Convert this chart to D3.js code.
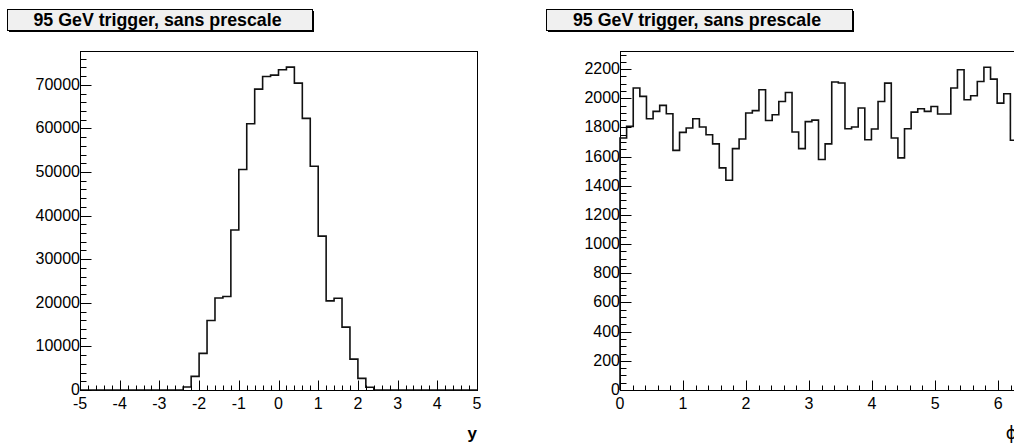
<!DOCTYPE html>
<html>
<head>
<meta charset="utf-8">
<script src="https://cdn.jsdelivr.net/npm/d3@7"></script>
<style>
  html, body { margin: 0; padding: 0; background: #fff; }
  svg { display: block; font-family: "Liberation Sans", Arial, Helvetica, sans-serif; }
</style>
</head>
<body>
<svg id="chart" width="1014" height="443"></svg>
<script>
// ---------- DATA ----------
const titleText = "95 GeV trigger, sans prescale";

// Left histogram: rapidity y, 50 bins from -5 to 5
const yBinLow = -5, yBinWidth = 0.2;
const yCounts = [
  0, 0, 0, 0, 0, 0, 0, 0, 0, 0, 0, 0, 0,
  700, 3130, 8400, 15950, 21100, 21430, 36680, 50560, 61080, 69010, 71910, 72220,
  73440, 74050, 70390, 62300, 51320, 35300, 20430, 21050, 14410, 7090, 2670, 620,
  0, 0, 0, 0, 0, 0, 0, 0, 0, 0, 0, 0, 0
];
const yXTicks = [-5, -4, -3, -2, -1, 0, 1, 2, 3, 4, 5];
const yYTicks = [0, 10000, 20000, 30000, 40000, 50000, 60000, 70000];
const yAxisLabel = "y";

// Right histogram: azimuth phi, 60 bins from 0 to 6.3
const phiBinLow = 0, phiBinWidth = 0.105;
const phiCounts = [
  1728, 1807, 2070, 2013, 1860, 1910, 1951, 1894, 1643, 1766,
  1796, 1860, 1803, 1750, 1687, 1523, 1438, 1655, 1721, 1899,
  1915, 2058, 1848, 1887, 1978, 2040, 1769, 1655, 1840, 1850,
  1580, 1687, 2111, 2105, 1791, 1803, 1933, 1716, 1789, 1978,
  2104, 1728, 1591, 1791, 1905, 1928, 1910, 1944, 1892, 1892,
  2070, 2195, 1990, 2017, 2115, 2213, 2131, 1967, 2031, 1712
];
const phiXTicks = [0, 1, 2, 3, 4, 5, 6];
const phiYTicks = [0, 200, 400, 600, 800, 1000, 1200, 1400, 1600, 1800, 2000, 2200];
const phiAxisLabel = "\u03D5";

// ---------- DRAW ----------
const svg = d3.select("#chart");

function titleBox(x, y, w, h) {
  const g = svg.append("g");
  g.append("rect").attr("x", x + 2).attr("y", y + 2).attr("width", w).attr("height", h).attr("fill", "#000");
  g.append("rect").attr("x", x + 0.5).attr("y", y + 0.5).attr("width", w).attr("height", h)
    .attr("fill", "#f0f0f0").attr("stroke", "#000").attr("stroke-width", 1);
  g.append("text").attr("x", x + w / 2 - 2).attr("y", y + h / 2 + 6.2)
    .attr("text-anchor", "middle").attr("font-weight", "bold").attr("font-size", 17.8)
    .text(titleText);
}

function histPanel(opt) {
  const { left, right, top, bottom, xDomain, yMax, counts, binLow, binWidth,
          xTicks, yTicks, xMinorStep, yMinorStep, label, labelBold, labelX } = opt;
  const x = d3.scaleLinear().domain(xDomain).range([left, right]);
  const y = d3.scaleLinear().domain([0, yMax]).range([bottom, top]);
  const g = svg.append("g");

  g.append("rect").attr("x", left + 0.5).attr("y", top + 0.5)
    .attr("width", right - left).attr("height", bottom - top)
    .attr("fill", "none").attr("stroke", "#000").attr("stroke-width", 1);

  const pts = [];
  pts.push([x(binLow), y(0)]);
  counts.forEach((c, i) => {
    const x0 = x(binLow + i * binWidth), x1 = x(binLow + (i + 1) * binWidth);
    pts.push([x0, y(c)]);
    pts.push([x1, y(c)]);
  });
  pts.push([x(binLow + counts.length * binWidth), y(0)]);
  g.append("path").attr("d", d3.line()(pts)).attr("fill", "none")
    .attr("stroke", "#111").attr("stroke-width", 1.6).attr("stroke-linejoin", "miter");

  const xMinor = d3.range(xDomain[0], xDomain[1] + 1e-9, xMinorStep);
  xMinor.forEach(v => {
    const isMajor = Math.abs(v - Math.round(v)) < 1e-6;
    const len = isMajor ? 10 : 5;
    g.append("line").attr("x1", Math.round(x(v)) + 0.5).attr("x2", Math.round(x(v)) + 0.5)
      .attr("y1", bottom + 0.5).attr("y2", bottom + 0.5 - len)
      .attr("stroke", "#000").attr("stroke-width", 1);
  });
  xTicks.forEach(v => {
    g.append("text").attr("x", x(v)).attr("y", bottom + 18.5)
      .attr("text-anchor", "middle").attr("font-size", 16).text(v);
  });

  const yMinor = d3.range(0, yMax, yMinorStep);
  const majorStep = yTicks[1] - yTicks[0];
  yMinor.forEach(v => {
    const isMajor = Math.abs(v / majorStep - Math.round(v / majorStep)) < 1e-6;
    const len = isMajor ? 11 : 6;
    g.append("line").attr("x1", left + 0.5).attr("x2", left + 0.5 + len)
      .attr("y1", Math.round(y(v)) + 0.5).attr("y2", Math.round(y(v)) + 0.5)
      .attr("stroke", "#000").attr("stroke-width", 1);
  });
  yTicks.forEach(v => {
    g.append("text").attr("x", left).attr("y", y(v) + 5)
      .attr("text-anchor", "end").attr("font-size", 16).text(v);
  });

  g.append("text").attr("x", labelX).attr("y", 439)
    .attr("text-anchor", "end").attr("font-size", 17)
    .attr("font-weight", labelBold ? "bold" : "normal")
    .attr("font-family", labelBold ? null : "'DejaVu Sans', sans-serif")
    .text(label);
}

titleBox(7, 9, 305, 21);
titleBox(546, 9, 306, 21);

histPanel({
  left: 80, right: 477, top: 51, bottom: 390,
  xDomain: [-5, 5], yMax: 77750,
  counts: yCounts, binLow: yBinLow, binWidth: yBinWidth,
  xTicks: yXTicks, yTicks: yYTicks, xMinorStep: 0.2, yMinorStep: 2000,
  label: yAxisLabel, labelBold: true, labelX: 477
});

histPanel({
  left: 620, right: 1017, top: 51, bottom: 390,
  xDomain: [0, 6.3], yMax: 2324,
  counts: phiCounts, binLow: phiBinLow, binWidth: phiBinWidth,
  xTicks: phiXTicks, yTicks: phiYTicks, xMinorStep: 0.2, yMinorStep: 50,
  label: phiAxisLabel, labelBold: false, labelX: 1017
});
</script>
</body>
</html>
